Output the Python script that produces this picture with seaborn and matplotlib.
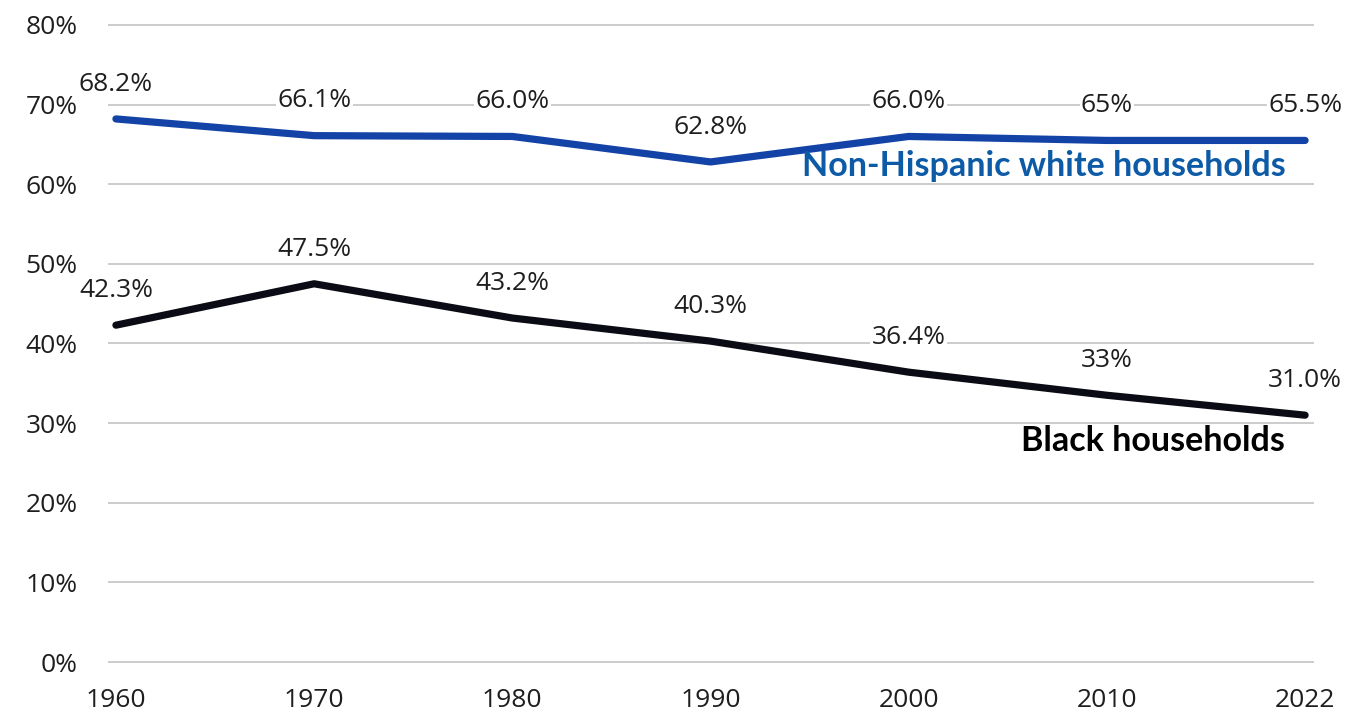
import pandas as pd
import numpy as np
import matplotlib
matplotlib.use('Agg')
import matplotlib.pyplot as plt
import seaborn as sns

# data
years = ['1960', '1970', '1980', '1990', '2000', '2010', '2022']
white_vals = [68.2, 66.1, 66.0, 62.8, 66.0, 65.5, 65.5]
white_labels = ['68.2%', '66.1%', '66.0%', '62.8%', '66.0%', '65%', '65.5%']
black_vals = [42.3, 47.5, 43.2, 40.3, 36.4, 33.5, 31.0]
black_labels = ['42.3%', '47.5%', '43.2%', '40.3%', '36.4%', '33%', '31.0%']
y_ticks = [0, 10, 20, 30, 40, 50, 60, 70, 80]

sns.set_theme(style='white')
plt.rcParams['font.family'] = ['Open Sans', 'DejaVu Sans']

BLUE = '#1343a6'
BLACK = '#0b0b16'
TXT = '#1e1e1e'

df = pd.DataFrame({
    'x': list(range(len(years))) * 2,
    'value': white_vals + black_vals,
    'group': ['white'] * len(years) + ['black'] * len(years),
})

fig = plt.figure(figsize=(13.68, 7.2), dpi=100)
ax = fig.add_axes([108 / 1368, 50 / 720, 1206 / 1368, 653 / 720])

sns.lineplot(data=df, x='x', y='value', hue='group',
             palette={'white': BLUE, 'black': BLACK},
             linewidth=5.2, legend=False, ax=ax,
             solid_capstyle='round', solid_joinstyle='round')

ax.set_xlim(-0.04, 6.045)
ax.set_ylim(-1, 81)
ax.set_yticks(y_ticks)
ax.set_yticklabels([f'{v}%' for v in y_ticks])
ax.set_xticks(range(len(years)))
ax.set_xticklabels(years)
ax.tick_params(axis='y', length=0, pad=22, labelsize=19, labelcolor=TXT)
ax.tick_params(axis='x', length=0, pad=13, labelsize=19, labelcolor=TXT)
ax.yaxis.grid(True, color='#c8c8c8', linewidth=1.3)
ax.xaxis.grid(False)
ax.set_axisbelow(True)
for s in ax.spines.values():
    s.set_visible(False)
ax.set_xlabel('')
ax.set_ylabel('')

# value labels above each point
for vals, labs in [(white_vals, white_labels), (black_vals, black_labels)]:
    for i, (v, lab) in enumerate(zip(vals, labs)):
        ax.annotate(lab, (i, v), xytext=(0, 25), textcoords='offset points',
                    ha='center', va='center', fontsize=19, fontweight=500,
                    color=TXT,
                    bbox=dict(boxstyle='square,pad=0.05', fc='white', ec='none'))

# series names
ax.text(5.9, 62.3, 'Non-Hispanic white households', ha='right', va='center',
        fontsize=24.5, fontweight='bold', color='#0d5aa7', family=['Lato'])
ax.text(5.9, 27.7, 'Black households', ha='right', va='center',
        fontsize=24.5, fontweight='bold', color='black', family=['Lato'])

plt.savefig('out.png', dpi=100)
